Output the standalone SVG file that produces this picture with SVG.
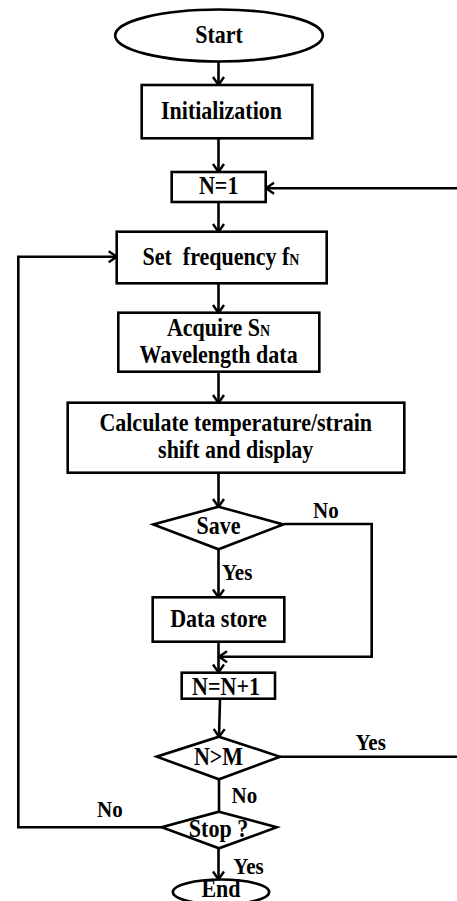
<svg xmlns="http://www.w3.org/2000/svg" width="457" height="901" viewBox="0 0 457 901">
<style>
.s{fill:#fff;stroke:#000;stroke-width:2.6}
.t{font-family:"Liberation Serif","Times New Roman",serif;font-weight:bold;font-size:22px;fill:#000;text-anchor:middle}
.l{font-family:"Liberation Serif","Times New Roman",serif;font-weight:bold;font-size:21px;fill:#000}
.sub{font-size:14px}
.c{fill:none;stroke:#000;stroke-width:2.6}
</style>
<defs>
<marker id="ah" markerUnits="userSpaceOnUse" markerWidth="14" markerHeight="14" viewBox="-10 -7 12 14" refX="0" refY="0" orient="auto">
<path d="M-8,-5.5 L0,0 L-8,5.5" fill="none" stroke="#000" stroke-width="2.4"/>
</marker>
</defs>
<rect width="457" height="901" fill="#fff"/>
<g id="connectors">
<line class="c" x1="218.5" y1="61.5" x2="218.5" y2="85" marker-end="url(#ah)"/>
<line class="c" x1="218.5" y1="138.5" x2="218.5" y2="172" marker-end="url(#ah)"/>
<line class="c" x1="218.5" y1="202" x2="218.5" y2="232" marker-end="url(#ah)"/>
<line class="c" x1="218.5" y1="283.5" x2="218.5" y2="313" marker-end="url(#ah)"/>
<line class="c" x1="218.5" y1="372" x2="218.5" y2="403" marker-end="url(#ah)"/>
<line class="c" x1="218.5" y1="473" x2="218.5" y2="507" marker-end="url(#ah)"/>
<line class="c" x1="218.5" y1="549.5" x2="218.5" y2="597.5" marker-end="url(#ah)"/>
<polyline class="c" points="283.5,524 371.7,524 371.7,656.7 219,656.7" marker-end="url(#ah)"/>
<line class="c" x1="218.5" y1="642" x2="218.5" y2="672.5" marker-end="url(#ah)"/>
<line class="c" x1="220" y1="699" x2="219" y2="737" marker-end="url(#ah)"/>
<polyline class="c" points="280,756.7 460,756.7 460,188.3 266,188.3" marker-end="url(#ah)"/>
<line class="c" x1="219" y1="779.5" x2="219" y2="812"/>
<polyline class="c" points="161.7,827.3 18.3,827.3 18.3,256.7 116.7,256.7" marker-end="url(#ah)"/>
<line class="c" x1="218.5" y1="848.5" x2="218.5" y2="879.5" marker-end="url(#ah)"/>
</g>
<g id="start">
<ellipse class="s" cx="219" cy="35.5" rx="103.8" ry="26"/>
<text class="t" transform="translate(219,42.7) scale(1,1.13)">Start</text>
</g>
<g id="init">
<rect class="s" x="141.7" y="85" width="170.6" height="53.3"/>
<text class="t" transform="translate(221.5,119.3) scale(1,1.13)">Initialization</text>
</g>
<g id="n1">
<rect class="s" x="171.7" y="172" width="94" height="30"/>
<text class="t" transform="translate(218.7,194) scale(1,1.13)">N=1</text>
</g>
<g id="setfreq">
<rect class="s" x="116.7" y="231.7" width="210" height="51.6"/>
<text class="t" transform="translate(221,265) scale(1,1.13)" xml:space="preserve">Set  frequency f<tspan class="sub">N</tspan></text>
</g>
<g id="acquire">
<rect class="s" x="118.3" y="312.7" width="201" height="59"/>
<text class="t" transform="translate(218.5,336) scale(1,1.13)">Acquire S<tspan class="sub">N</tspan></text>
<text class="t" transform="translate(218.5,362.7) scale(1,1.13)">Wavelength data</text>
</g>
<g id="calc">
<rect class="s" x="67.7" y="402.7" width="336.6" height="70"/>
<text class="t" transform="translate(235.7,431) scale(1,1.13)">Calculate temperature/strain</text>
<text class="t" transform="translate(235.7,458) scale(1,1.13)">shift and display</text>
</g>
<g id="save">
<polygon class="s" points="218.5,506.7 283.3,524.5 218.5,549.3 153.3,524.5"/>
<text class="t" transform="translate(218.5,534) scale(1,1.13)">Save</text>
</g>
<g id="datastore">
<rect class="s" x="152.7" y="597.3" width="131.6" height="44.4"/>
<text class="t" transform="translate(218.5,626.7) scale(1,1.13)">Data store</text>
</g>
<g id="ninc">
<rect class="s" x="181.7" y="672.7" width="93.3" height="26"/>
<text class="t" transform="translate(226,695) scale(1,1.13)">N=N+1</text>
</g>
<g id="ngtm">
<polygon class="s" points="219,736.7 280,756.7 219,779.3 156.7,756.7"/>
<text class="t" transform="translate(218.5,765) scale(1,1.13)">N&gt;M</text>
</g>
<g id="stop">
<polygon class="s" points="219,811.7 276.7,827.3 219,848.3 161.7,827.3"/>
<text class="t" transform="translate(218.5,836.7) scale(1,1.13)">Stop ?</text>
</g>
<g id="end">
<ellipse class="s" cx="221" cy="892" rx="48.2" ry="12.5"/>
<text class="t" transform="translate(221,897) scale(1,1.13)">End</text>
</g>
<g id="labels">
<text class="l" transform="translate(313,518.3) scale(1,1.13)">No</text>
<text class="l" transform="translate(222,580) scale(1,1.13)">Yes</text>
<text class="l" transform="translate(355.5,750) scale(1,1.13)">Yes</text>
<text class="l" transform="translate(231.5,803.3) scale(1,1.13)">No</text>
<text class="l" transform="translate(97,816.7) scale(1,1.13)">No</text>
<text class="l" transform="translate(233.3,874) scale(1,1.13)">Yes</text>
</g>
</svg>
